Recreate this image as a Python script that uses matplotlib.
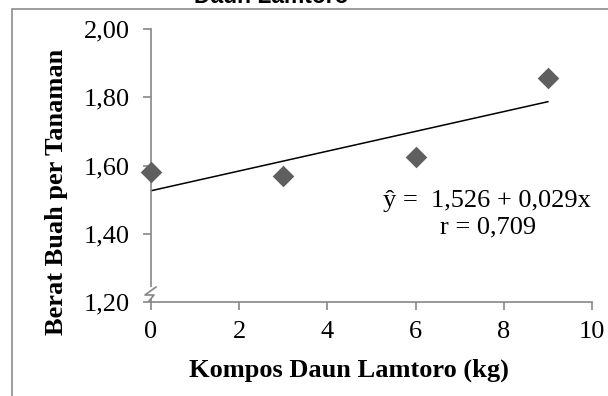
import matplotlib
matplotlib.use("Agg")
import matplotlib.pyplot as plt
import matplotlib.transforms as mtransforms
from matplotlib.patches import Rectangle
import numpy as np

# Data
kompos = [0, 3, 6, 9]
berat = [1.58, 1.57, 1.625, 1.857]
intercept = 1.526
slope = 0.029
xticks = [0, 2, 4, 6, 8, 10]
yticks = [1.20, 1.40, 1.60, 1.80, 2.00]
ytick_labels = ["1,20", "1,40", "1,60", "1,80", "2,00"]
equation = "ŷ =  1,526 + 0,029x"
r_text = "r = 0,709"
title = "Daun Lamtoro"
xlabel = "Kompos Daun Lamtoro (kg)"
ylabel = "Berat Buah per Tanaman"

W, H = 608, 396
fig = plt.figure(figsize=(W / 100, H / 100), dpi=100)
serif = ["Liberation Serif", "DejaVu Serif"]
gray = "#868686"


def fx(px):
    return px / W


def fy(py):
    return (H - py) / H


ax = fig.add_axes([151 / W, 94 / H, 441 / W, 273 / H])
ax.set_xlim(0, 10)
ax.set_ylim(1.2, 2.0)

ax.scatter(kompos, berat, marker="D", s=11 ** 2, color="#5f5f5f", zorder=3,
           linewidths=0, clip_on=False)
xl = np.array([min(kompos), max(kompos)])
ax.plot(xl, intercept + slope * xl, color="black", lw=1.1, zorder=2)

for s in ["top", "right"]:
    ax.spines[s].set_visible(False)
for s in ["left", "bottom"]:
    ax.spines[s].set_color(gray)
    ax.spines[s].set_linewidth(1.2)

ax.set_xticks(xticks)
ax.set_xticklabels([str(t) for t in xticks], fontfamily=serif, fontsize=19)
ax.set_yticks(yticks)
ax.set_yticklabels(ytick_labels, fontfamily=serif, fontsize=19)
ax.tick_params(axis="both", colors=gray, labelcolor="black", length=5.5, width=1.2, direction="out")
ax.tick_params(axis="x", pad=8)
ax.tick_params(axis="y", pad=10)

fig.text(fx(349), fy(370), xlabel, fontfamily=serif, fontsize=19, fontweight="bold",
         ha="center", va="center")
fig.text(fx(57), fy(192), ylabel, fontfamily=serif, fontsize=19, fontweight="bold",
         ha="center", va="center", rotation=90)

fig.text(fx(487), fy(207), equation, fontfamily=serif, fontsize=19, ha="center", va="baseline")
fig.text(fx(488), fy(233), r_text, fontfamily=serif, fontsize=19, ha="center", va="baseline")

# axis break symbol near the bottom of the y axis
base = mtransforms.ScaledTranslation(0, 1.2, ax.transData)
t = mtransforms.Affine2D() + base
ax.add_patch(Rectangle((-4, 3), 8, 12, transform=t, facecolor="white", edgecolor="none",
                       zorder=4, clip_on=False))
ax.plot([5, -6, 3, -2], [15, 7, 7, 1], transform=t, color=gray, lw=1.2, zorder=5, clip_on=False)

# outer chart border
fig.add_artist(Rectangle((12 / W, -0.05), 1.0, (H - 9) / H + 0.05, transform=fig.transFigure,
                         facecolor="none", edgecolor="#8c8c8c", lw=1.2))

fig.text(fx(271), fy(3), title, ha="center", va="baseline", fontsize=16.5,
         fontweight="bold", fontfamily=["Liberation Sans", "DejaVu Sans"])

fig.savefig("out.png", dpi=100)
